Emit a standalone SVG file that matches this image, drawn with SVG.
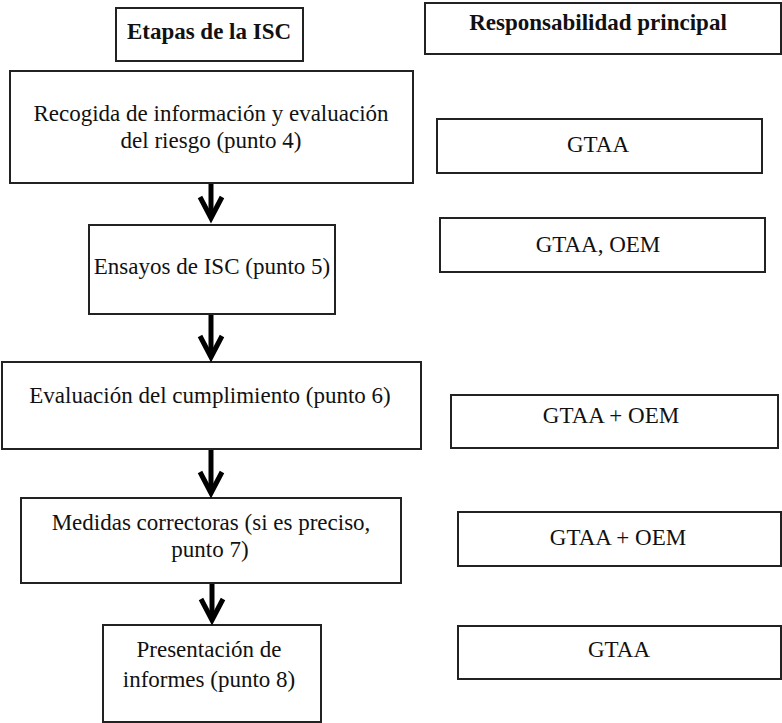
<svg xmlns="http://www.w3.org/2000/svg" width="782" height="723" viewBox="0 0 782 723">
<style>
.box{fill:#fff;stroke:#222;stroke-width:2}
.t{font-family:"Liberation Serif","Times New Roman",serif;font-size:23px;fill:#111;text-anchor:middle}
.h{font-weight:bold}
.c{stroke:#000;stroke-width:5;fill:none}
</style>
<defs>
<marker id="ah" markerUnits="userSpaceOnUse" viewBox="-30 -16 34 32" refX="0" refY="0" markerWidth="34" markerHeight="32" orient="auto" overflow="visible">
<path d="M-21,-11 L0,0 L-21,11" fill="none" stroke="#000" stroke-width="5" stroke-linejoin="miter" stroke-miterlimit="10"/>
</marker>
</defs>
<rect width="782" height="723" fill="#fff"/>
<g id="h1"><rect class="box" x="116" y="8" width="187" height="53"/><text class="t h" x="209" y="39">Etapas de la ISC</text></g>
<g id="h2"><rect class="box" x="425" y="3" width="356" height="51"/><text class="t h" x="598" y="30">Responsabilidad principal</text></g>
<g id="s1"><rect class="box" x="10" y="71" width="403" height="112"/><text class="t" x="211" y="121">Recogida de información y evaluación</text><text class="t" x="211" y="148">del riesgo (punto 4)</text></g>
<g id="r1"><rect class="box" x="437" y="119" width="325" height="54"/><text class="t" x="598" y="152">GTAA</text></g>
<g id="s2"><rect class="box" x="89" y="225" width="246" height="89"/><text class="t" x="212" y="274">Ensayos de ISC (punto 5)</text></g>
<g id="r2"><rect class="box" x="440" y="218" width="325" height="54"/><text class="t" x="598" y="252">GTAA, OEM</text></g>
<g id="s3"><rect class="box" x="2" y="362" width="419" height="87"/><text class="t" x="210" y="403">Evaluación del cumplimiento (punto 6)</text></g>
<g id="r3"><rect class="box" x="451" y="395" width="327" height="53"/><text class="t" x="611" y="423">GTAA + OEM</text></g>
<g id="s4"><rect class="box" x="21" y="498" width="380" height="85"/><text class="t" x="211" y="530">Medidas correctoras (si es preciso,</text><text class="t" x="210" y="557">punto 7)</text></g>
<g id="r4"><rect class="box" x="458" y="512" width="323" height="54"/><text class="t" x="618" y="545">GTAA + OEM</text></g>
<g id="s5"><rect class="box" x="103" y="625" width="218" height="97"/><text class="t" x="209" y="657">Presentación de</text><text class="t" x="209" y="687">informes (punto 8)</text></g>
<g id="r5"><rect class="box" x="458" y="626" width="323" height="53"/><text class="t" x="619" y="657">GTAA</text></g>
<g id="connectors">
<line class="c" x1="211" y1="184" x2="211" y2="218" marker-end="url(#ah)"/>
<line class="c" x1="211" y1="315" x2="211" y2="357" marker-end="url(#ah)"/>
<line class="c" x1="211" y1="450" x2="211" y2="493" marker-end="url(#ah)"/>
<line class="c" x1="212" y1="584" x2="212" y2="620" marker-end="url(#ah)"/>
</g>
</svg>
